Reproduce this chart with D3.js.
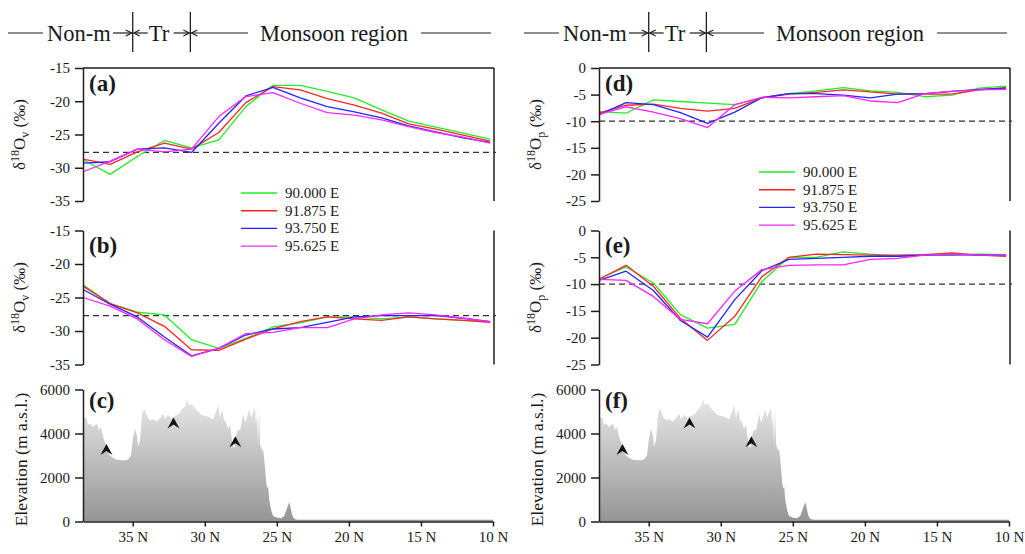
<!DOCTYPE html>
<html><head><meta charset="utf-8">
<script src="https://cdn.jsdelivr.net/npm/d3@7"></script>
<style>
body{margin:0;background:#fff}
svg text{font-family:"Liberation Serif","Times New Roman",serif;fill:#1a1a1a}
</style></head><body>
<svg id="c" width="1025" height="554"></svg>
<script>
// ---------- data ----------
const lats = [38.45, 36.57, 34.68, 32.80, 30.92, 29.03, 27.15, 25.27, 23.38, 21.50, 19.62, 17.73, 15.85, 13.97, 12.08, 10.20];
const seriesNames = ["90.000 E", "91.875 E", "93.750 E", "95.625 E"];
const seriesColors = ["#22ee22", "#ff2424", "#2424ff", "#ff24ff"];

// (a) vapour, upper
const a90 = [-28.8, -31.0, -28.3, -25.9, -27.0, -25.8, -20.8, -17.6, -17.6, -18.5, -19.5, -21.3, -23.0, -23.9, -24.8, -25.7];
const a91 = [-28.7, -29.5, -27.6, -26.3, -27.2, -24.7, -20.2, -17.8, -18.3, -19.6, -20.6, -21.8, -23.4, -24.2, -25.1, -26.0];
const a93 = [-29.3, -29.1, -27.2, -27.0, -27.7, -23.3, -19.2, -17.9, -19.5, -20.8, -21.6, -22.5, -23.7, -24.6, -25.5, -26.2];
const a95 = [-30.6, -29.0, -27.2, -27.6, -27.2, -22.3, -19.3, -18.7, -20.3, -21.7, -22.1, -22.8, -23.8, -24.7, -25.4, -26.3];
// (b) vapour, lower
const b90 = [-23.1, -25.9, -27.2, -27.6, -31.3, -32.6, -31.1, -29.4, -28.8, -27.9, -27.9, -28.2, -27.9, -28.2, -28.4, -28.6];
const b91 = [-23.3, -25.9, -27.3, -29.3, -32.8, -32.9, -31.2, -29.7, -28.6, -27.9, -28.2, -28.4, -27.9, -28.2, -28.4, -28.7];
const b93 = [-23.8, -26.0, -27.9, -30.9, -33.7, -32.6, -30.6, -29.7, -29.5, -28.7, -27.9, -27.7, -27.7, -27.7, -28.1, -28.6];
const b95 = [-25.0, -26.3, -28.2, -31.3, -33.8, -32.6, -30.4, -30.2, -29.5, -29.5, -28.2, -27.6, -27.3, -27.6, -28.1, -28.6];
// (d) precipitation, upper
const d90 = [-8.2, -8.5, -6.0, -6.3, -6.6, -6.9, -5.6, -4.8, -4.3, -3.7, -4.3, -4.6, -5.4, -5.1, -3.8, -3.4];
const d91 = [-8.5, -7.0, -6.8, -7.6, -8.1, -7.6, -5.6, -4.9, -4.6, -4.1, -4.5, -4.9, -4.9, -4.9, -4.1, -3.7];
const d93 = [-8.8, -6.5, -6.9, -8.4, -10.4, -8.3, -5.6, -4.8, -4.8, -5.1, -5.6, -4.9, -4.8, -4.4, -4.0, -3.8];
const d95 = [-8.7, -7.3, -8.3, -9.5, -11.2, -6.9, -5.5, -5.6, -5.4, -5.2, -6.2, -6.5, -4.8, -4.4, -4.1, -4.0];
// (e) precipitation, lower
const e90 = [-9.0, -6.8, -9.8, -15.7, -18.2, -17.5, -9.5, -5.0, -5.0, -4.0, -4.4, -4.8, -4.6, -4.6, -4.4, -4.5];
const e91 = [-9.1, -6.5, -10.4, -16.4, -20.5, -16.0, -8.6, -5.0, -4.4, -4.5, -4.6, -4.6, -4.5, -4.2, -4.6, -4.8];
const e93 = [-9.3, -7.6, -11.2, -16.8, -19.9, -12.9, -7.5, -5.4, -5.2, -5.0, -4.8, -4.8, -4.6, -4.5, -4.6, -4.6];
const e95 = [-9.1, -9.3, -12.3, -16.6, -17.4, -11.3, -7.3, -6.5, -6.4, -6.4, -5.4, -5.2, -4.6, -4.4, -4.6, -4.6];

const vaporTicks = [-15, -20, -25, -30, -35];
const precipTicks = [0, -5, -10, -15, -20, -25];
const elevTicks = [0, 2000, 4000, 6000];
const latTicks = [35, 30, 25, 20, 15, 10];
const vaporRef = -27.7;
const precipRef = -10;
const regionBounds = [35, 31];
const regionNames = ["Non-m", "Tr", "Monsoon region"];

// elevation profile (latitude, metres)
const elevLat = [38.45, 38.24, 38.10, 37.96, 37.76, 37.62, 37.48, 37.34, 37.20, 37.06, 36.92, 36.78, 36.58, 36.37, 36.16, 35.88, 35.53, 35.33, 35.12, 34.98, 34.84, 34.70, 34.63, 34.49, 34.35, 34.21, 34.08, 33.94, 33.80, 33.59, 33.31, 33.10, 32.89, 32.76, 32.55, 32.34, 32.06, 31.78, 31.58, 31.37, 31.23, 31.09, 30.88, 30.67, 30.46, 30.26, 29.98, 29.70, 29.42, 29.21, 29.07, 28.94, 28.80, 28.66, 28.52, 28.38, 28.24, 28.10, 27.96, 27.83, 27.69, 27.55, 27.34, 27.20, 27.06, 26.92, 26.78, 26.64, 26.51, 26.44, 26.37, 26.30, 26.23, 26.16, 26.02, 25.95, 25.81, 25.74, 25.67, 25.60, 25.53, 25.39, 25.26, 24.98, 24.70, 24.49, 24.35, 24.21, 24.14, 24.07, 23.94, 23.80, 23.59, 10.0];
const elevM = [4650, 4750, 4400, 4450, 4300, 4380, 4450, 4150, 4300, 3850, 3600, 3300, 3000, 2900, 2820, 2780, 2780, 2820, 3000, 3800, 4200, 3900, 3400, 3700, 4850, 5150, 4900, 4700, 4600, 4650, 4550, 4700, 4900, 4650, 4850, 4700, 4800, 4900, 5100, 5250, 5550, 5300, 5350, 5150, 5000, 4850, 4800, 4750, 4650, 5000, 5350, 4700, 5100, 4600, 4500, 4200, 4400, 3600, 3300, 3900, 4200, 4100, 4900, 4500, 4750, 5100, 4700, 5000, 5150, 4300, 5000, 3400, 5150, 3500, 3200, 3300, 2400, 1800, 1500, 1600, 1000, 500, 250, 170, 150, 250, 500, 750, 880, 700, 300, 120, 80, 80];
const markLat = [36.82, 32.17, 27.88];
const markElev = [3250, 4450, 3600];

// ---------- layout ----------
const svg = d3.select("#c");
const defs = svg.append("defs");
const cols = [{x0: 83, x1: 493}, {x0: 599, x1: 1009}];
const rows = {top: [68, 201], mid: [230.5, 364.5], bot: [389.5, 521.5]};
const latDomain = [38.45, 10];
const ink = "#1e1e1e";
const FONT = "'Liberation Serif','Times New Roman',serif";

const grad = defs.append("linearGradient").attr("id", "elevGrad")
  .attr("gradientUnits", "userSpaceOnUse")
  .attr("x1", 0).attr("x2", 0).attr("y1", rows.bot[0]).attr("y2", rows.bot[1]);
grad.append("stop").attr("offset", 0).attr("stop-color", "#ededed");
grad.append("stop").attr("offset", 1).attr("stop-color", "#959595");

function styleAxis(g) {
  g.attr("font-family", FONT).attr("font-size", 15);
  g.selectAll("path.domain, .tick line").attr("stroke", ink).attr("stroke-width", 1.5);
  g.selectAll("text").attr("fill", ink);
}

function yTitle(cx, cy, sub) {
  const t = svg.append("text")
    .attr("transform", `translate(${cx},${cy}) rotate(-90)`)
    .attr("text-anchor", "middle").attr("font-size", 17);
  t.append("tspan").text("δ");
  t.append("tspan").attr("font-size", 12).attr("dy", -6).text("18");
  t.append("tspan").attr("dy", 6).text("O");
  t.append("tspan").attr("font-size", 12).attr("dy", 4).text(sub);
  t.append("tspan").attr("dy", -4).text(" (‰)");
}

const panels = [
  {col: 0, row: "top", label: "(a)", dom: [-35, -15], ticks: vaporTicks, series: [a90, a91, a93, a95], ref: vaporRef, sub: "v", frameTop: true},
  {col: 0, row: "mid", label: "(b)", dom: [-35, -15], ticks: vaporTicks, series: [b90, b91, b93, b95], ref: vaporRef, sub: "v", frameTop: false},
  {col: 1, row: "top", label: "(d)", dom: [-25, 0], ticks: precipTicks, series: [d90, d91, d93, d95], ref: precipRef, sub: "p", frameTop: true},
  {col: 1, row: "mid", label: "(e)", dom: [-25, 0], ticks: precipTicks, series: [e90, e91, e93, e95], ref: precipRef, sub: "p", frameTop: false}
];

panels.forEach(p => {
  const c = cols[p.col], r = rows[p.row];
  const x = d3.scaleLinear().domain(latDomain).range([c.x0, c.x1]);
  const y = d3.scaleLinear().domain(p.dom).range([r[1], r[0]]);
  if (p.frameTop) svg.append("line").attr("x1", c.x0).attr("x2", c.x1 + 1).attr("y1", r[0]).attr("y2", r[0]).attr("stroke", ink).attr("stroke-width", 1.5);
  svg.append("line").attr("x1", c.x1 + 1).attr("x2", c.x1 + 1).attr("y1", r[0]).attr("y2", r[1]).attr("stroke", ink).attr("stroke-width", 1.5);
  svg.append("line").attr("x1", c.x0).attr("x2", c.x1 + 3).attr("y1", y(p.ref)).attr("y2", y(p.ref))
    .attr("stroke", "#333").attr("stroke-width", 1.2).attr("stroke-dasharray", "6,4");
  const line = d3.line().x((d, i) => x(lats[i])).y(d => y(d));
  p.series.forEach((s, k) => {
    svg.append("path").datum(s).attr("d", line).attr("fill", "none")
      .attr("stroke", seriesColors[k]).attr("stroke-width", 1.3).attr("stroke-linejoin", "round");
  });
  const ax = svg.append("g").attr("transform", `translate(${c.x0},0)`)
    .call(d3.axisLeft(y).tickValues(p.ticks).tickSize(8).tickSizeOuter(0).tickPadding(5).tickFormat(d => String(d)));
  styleAxis(ax);
  svg.append("text").attr("x", c.x0 + 6).attr("y", p.row === "top" ? 91 : 253)
    .attr("font-size", 23).attr("font-weight", "bold").text(p.label);
  yTitle(c.x0 - 58, (r[0] + r[1]) / 2, p.sub);
});

// legends
const legends = [{x: 241, y: 193}, {x: 759, y: 172}];
legends.forEach(L => {
  seriesNames.forEach((n, k) => {
    const yy = L.y + k * 17.7;
    svg.append("line").attr("x1", L.x).attr("x2", L.x + 36).attr("y1", yy).attr("y2", yy)
      .attr("stroke", seriesColors[k]).attr("stroke-width", 1.4);
    svg.append("text").attr("x", L.x + 44).attr("y", yy + 5).attr("font-size", 15).text(n);
  });
});

// elevation panels
cols.forEach((c, ci) => {
  const r = rows.bot;
  const x = d3.scaleLinear().domain(latDomain).range([c.x0, c.x1]);
  const y = d3.scaleLinear().domain([0, 6000]).range([r[1], r[0]]);
  const area = d3.area().x((d, i) => x(elevLat[i])).y0(y(0)).y1(d => y(d));
  svg.append("path").datum(elevM).attr("d", area).attr("fill", "url(#elevGrad)");
  markLat.forEach((lt, i) => {
    svg.append("path").attr("d", "M-6,5 L0,-6 L6,5 L0,1 Z")
      .attr("transform", `translate(${x(lt)},${y(markElev[i])})`).attr("fill", "#111");
  });
  const ax = svg.append("g").attr("transform", `translate(${c.x0},0)`)
    .call(d3.axisLeft(y).tickValues(elevTicks).tickSize(8).tickSizeOuter(0).tickPadding(5).tickFormat(d => String(d)));
  styleAxis(ax);
  const bx = svg.append("g").attr("transform", `translate(0,${r[1]})`)
    .call(d3.axisBottom(x).tickValues(latTicks).tickSize(5).tickSizeOuter(0).tickPadding(5).tickFormat(d => d + " N"));
  styleAxis(bx);
  svg.append("text").attr("x", c.x0 + 6).attr("y", 408)
    .attr("font-size", 23).attr("font-weight", "bold").text(ci === 0 ? "(c)" : "(f)");
  svg.append("text").attr("transform", `translate(${c.x0 - 56},${(r[0] + r[1]) / 2 + 4}) rotate(-90)`)
    .attr("text-anchor", "middle").attr("font-size", 17.5).text("Elevation (m a.s.l.)");
});

// region annotation
function arrow(tip, tail, yy) {
  const dir = tip > tail ? 1 : -1;
  svg.append("line").attr("x1", tail).attr("x2", tip).attr("y1", yy).attr("y2", yy).attr("stroke", ink).attr("stroke-width", 1.2);
  svg.append("path").attr("d", `M${tip - dir * 6},${yy - 3} L${tip},${yy} L${tip - dir * 6},${yy + 3}`)
    .attr("fill", "none").attr("stroke", ink).attr("stroke-width", 1.2);
}
cols.forEach(c => {
  const x = d3.scaleLinear().domain(latDomain).range([c.x0, c.x1]);
  const b1 = x(regionBounds[0]), b2 = x(regionBounds[1]);
  const yy = 33;
  svg.append("line").attr("x1", c.x0 - 75).attr("x2", c.x0 - 40).attr("y1", yy).attr("y2", yy).attr("stroke", ink).attr("stroke-width", 1.2);
  svg.append("text").attr("x", c.x0 - 36).attr("y", 41).attr("font-size", 22.5).text(regionNames[0]);
  arrow(b1 - 1, c.x0 + 30, yy);
  svg.append("line").attr("x1", b1).attr("x2", b1).attr("y1", 12).attr("y2", 52).attr("stroke", ink).attr("stroke-width", 1.3);
  arrow(b1 + 1, b1 + 15, yy);
  svg.append("text").attr("x", b1 + 16).attr("y", 41).attr("font-size", 22.5).text(regionNames[1]);
  arrow(b2 - 1, b1 + 41, yy);
  svg.append("line").attr("x1", b2).attr("x2", b2).attr("y1", 12).attr("y2", 52).attr("stroke", ink).attr("stroke-width", 1.3);
  arrow(b2 + 1, c.x0 + 165, yy);
  svg.append("text").attr("x", c.x0 + 177).attr("y", 41).attr("font-size", 22.5).text(regionNames[2]);
  svg.append("line").attr("x1", c.x0 + 338).attr("x2", c.x0 + 408).attr("y1", yy).attr("y2", yy).attr("stroke", ink).attr("stroke-width", 1.2);
});
</script>
</body></html>
